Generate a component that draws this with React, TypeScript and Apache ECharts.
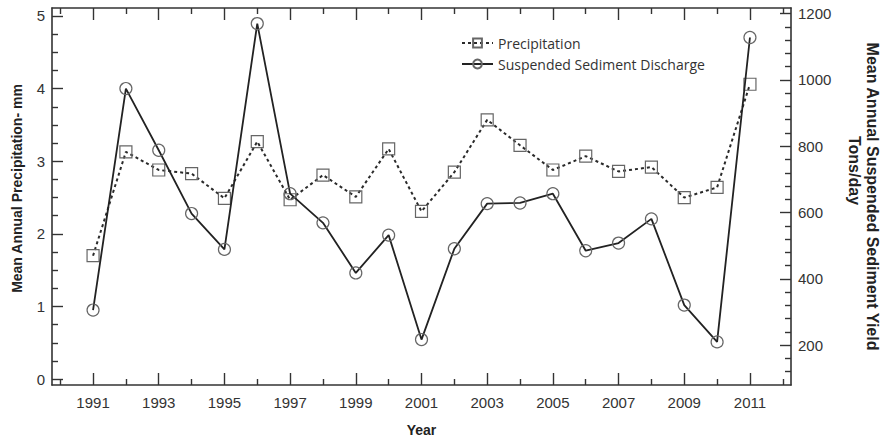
import React, { useEffect, useRef } from "react";
import * as echarts from "echarts";

// Observation years
const years = [
  1991, 1992, 1993, 1994, 1995, 1996, 1997, 1998, 1999, 2000, 2001,
  2002, 2003, 2004, 2005, 2006, 2007, 2008, 2009, 2010, 2011,
];

// Mean annual precipitation (mm)
const precipitation = [
  1.7, 3.13, 2.88, 2.83, 2.49, 3.27, 2.47, 2.81, 2.51, 3.17, 2.31,
  2.85, 3.57, 3.22, 2.88, 3.07, 2.86, 2.92, 2.5, 2.64, 4.06,
];

// Mean annual suspended sediment yield (tons/day)
const sediment = [
  306, 974, 788, 597, 489, 1170, 657, 569, 418, 532, 217,
  491, 627, 629, 657, 485, 508, 581, 321, 210, 1128,
];

// Tick positions
const yearLabels = [1991, 1993, 1995, 1997, 1999, 2001, 2003, 2005, 2007, 2009, 2011];
const yearMinor = [1990, 1992, 1994, 1996, 1998, 2000, 2002, 2004, 2006, 2008, 2010, 2012];
const precipTicks = [0, 1, 2, 3, 4, 5];
const precipMinor = [0.25, 0.5, 0.75, 1.25, 1.5, 1.75, 2.25, 2.5, 2.75, 3.25, 3.5, 3.75, 4.25, 4.5, 4.75];
const sedimentTicks = [200, 400, 600, 800, 1000, 1200];
const sedimentMinor = [
  120, 160, 240, 280, 320, 360, 440, 480, 520, 560, 640, 680, 720, 760,
  840, 880, 920, 960, 1040, 1080, 1120, 1160,
];

const AXIS_COLOR = "#333";
const LABEL_FONT = "Liberation Sans";

const X_MIN = 1989.75;
const X_MAX = 2012.25;
const P_MIN = -0.08;
const P_MAX = 5.11;
const S_MIN = 80;
const S_MAX = 1217;

function xAxisDef(position: "top" | "bottom", values: number[], len: number, withLine: boolean, withLabels: boolean, name?: string) {
  return {
    type: "value",
    position,
    min: X_MIN,
    max: X_MAX,
    name: name ?? "",
    nameLocation: "middle",
    nameGap: 38,
    nameTextStyle: { fontFamily: LABEL_FONT, fontWeight: "bold", fontSize: 14, color: "#222" },
    splitLine: { show: false },
    axisLine: { show: withLine, onZero: false, lineStyle: { color: AXIS_COLOR, width: 1.6 } },
    axisTick: { show: true, inside: true, length: len, customValues: values, lineStyle: { color: AXIS_COLOR, width: 1.4 } },
    axisLabel: {
      show: withLabels,
      customValues: values,
      margin: 10,
      fontFamily: LABEL_FONT,
      fontSize: 15,
      color: "#333",
      formatter: (v: number) => String(v),
    },
  };
}

function yAxisDef(position: "left" | "right", min: number, max: number, values: number[], len: number, withLine: boolean, withLabels: boolean) {
  return {
    type: "value",
    position,
    min,
    max,
    splitLine: { show: false },
    axisLine: { show: withLine, onZero: false, lineStyle: { color: AXIS_COLOR, width: 1.6 } },
    axisTick: { show: true, inside: true, length: len, customValues: values, lineStyle: { color: AXIS_COLOR, width: 1.4 } },
    axisLabel: {
      show: withLabels,
      customValues: values,
      margin: 7,
      fontFamily: LABEL_FONT,
      fontSize: 15,
      color: "#333",
      formatter: (v: number) => String(v),
    },
  };
}

export default function App() {
  const ref = useRef<HTMLDivElement>(null);

  useEffect(() => {
    if (!ref.current) return;
    const chart = echarts.init(ref.current, null, { renderer: "svg" });

    const precipData = years.map((y, i) => [y, precipitation[i]]);
    const sedimentData = years.map((y, i) => [y, sediment[i]]);

    const leftAxis: any = yAxisDef("left", P_MIN, P_MAX, precipTicks, 11, true, true);
    leftAxis.name = "Mean Annual Precipitation- mm";
    leftAxis.nameLocation = "middle";
    leftAxis.nameRotate = 90;
    leftAxis.nameGap = 28;
    leftAxis.nameTextStyle = {
      fontFamily: LABEL_FONT,
      fontWeight: "bold",
      fontSize: 14,
      color: "#222",
      padding: [0, 0, 0, 16],
    };

    const rightAxis: any = yAxisDef("right", S_MIN, S_MAX, sedimentTicks, 11, true, true);
    rightAxis.name = "{a|Mean Annual Suspended Sediment Yield}\n{b|Tons/day}";
    rightAxis.nameLocation = "middle";
    rightAxis.nameRotate = -90;
    rightAxis.nameGap = 54;
    rightAxis.nameTextStyle = {
      fontFamily: LABEL_FONT,
      fontWeight: "bold",
      fontSize: 16,
      color: "#222",
      lineHeight: 18,
      rich: {
        a: { fontFamily: LABEL_FONT, fontWeight: "bold", fontSize: 16, color: "#222", lineHeight: 18 },
        b: { fontFamily: LABEL_FONT, fontWeight: "bold", fontSize: 16, color: "#222", lineHeight: 18, padding: [0, 52, 0, 0] },
      },
    };

    chart.setOption({
      animation: false,
      backgroundColor: "#fff",
      grid: { left: 52, right: 90, top: 8, bottom: 54, outerBoundsMode: "none" },
      legend: {
        orient: "vertical",
        left: 456,
        top: 31,
        itemWidth: 31,
        itemHeight: 11,
        itemGap: 7,
        textStyle: { fontFamily: "Open Sans", fontSize: 14, color: "#333" },
        data: ["Precipitation", "Suspended Sediment Discharge"],
      },
      xAxis: [
        xAxisDef("bottom", yearLabels, 12, true, true, "Year"),
        xAxisDef("bottom", yearMinor, 6, false, false),
        xAxisDef("top", yearLabels, 12, true, false),
        xAxisDef("top", yearMinor, 6, false, false),
      ],
      yAxis: [
        leftAxis,
        rightAxis,
        yAxisDef("left", P_MIN, P_MAX, precipMinor, 6, false, false),
        yAxisDef("right", S_MIN, S_MAX, sedimentMinor, 6, false, false),
      ],
      series: [
        {
          name: "Precipitation",
          type: "line",
          xAxisIndex: 0,
          yAxisIndex: 0,
          data: precipData,
          symbol: "rect",
          symbolSize: 12,
          lineStyle: { color: "#2a2a2a", width: 2, type: [3, 3] },
          itemStyle: { color: "rgba(255,255,255,0)", borderColor: "#666", borderWidth: 1.2 },
          z: 3,
        },
        {
          name: "Suspended Sediment Discharge",
          type: "line",
          xAxisIndex: 0,
          yAxisIndex: 1,
          data: sedimentData,
          symbol: "circle",
          symbolSize: 12,
          lineStyle: { color: "#222", width: 1.8, type: "solid" },
          itemStyle: { color: "rgba(255,255,255,0)", borderColor: "#666", borderWidth: 1.2 },
          z: 4,
        },
      ],
    });

    return () => chart.dispose();
  }, []);

  return (
    <div
      ref={ref}
      style={{ position: "fixed", left: 0, top: 0, width: 881, height: 439, background: "#fff" }}
    />
  );
}
